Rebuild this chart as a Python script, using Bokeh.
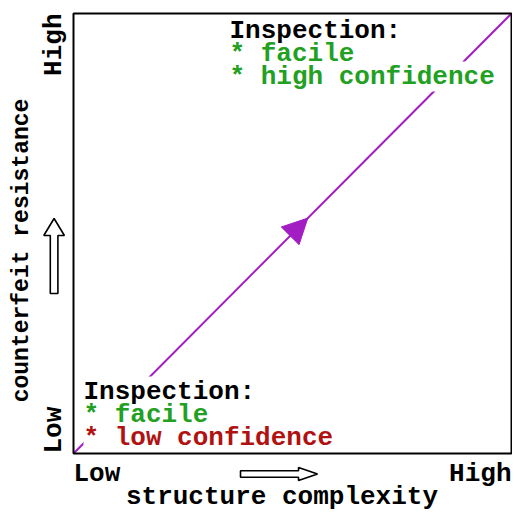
import math
from bokeh.plotting import figure
from bokeh.models import Range1d, Label, Arrow, NormalHead, BoxAnnotation
from bokeh.embed import file_html
from bokeh.resources import INLINE

# ---- data ----
levels = ["Low", "High"]
tick_pos = [0.0, 1.0]
tick_align = ["left", "right"]
trend_x = [0.0, 1.0]
trend_y = [0.0, 1.0]
x_title = "structure complexity"
y_title = "counterfeit resistance"
top_note = ["Inspection:", "* facile", "* high confidence"]
top_colors = ["black", "#22a022", "#22a022"]
bottom_note = ["Inspection:", "* facile", "* low confidence"]
bottom_colors = ["black", "#22a022", "#b01212"]

# ---- layout (pixels of the 512x513 canvas) ----
W, H = 512, 513
BOX_L, BOX_R, BOX_T, BOX_B = 73, 511, 13, 453
sx = 1.0 / (BOX_R - BOX_L)
sy = 1.0 / (BOX_B - BOX_T)
SHIFT = 7  # compensation of the rendered alphabetic baseline

FONT = "Liberation Mono"
FS = "26px"
PURPLE = "#a21ec2"

p = figure(width=W, height=H,
           x_range=Range1d(-BOX_L * sx, (W - BOX_L) * sx),
           y_range=Range1d(-(H - BOX_B) * sy, BOX_B * sy),
           x_axis_location=None, y_axis_location=None,
           output_backend="svg", toolbar_location=None, min_border=0)
p.grid.visible = False
p.outline_line_color = None
p.background_fill_color = "white"
p.border_fill_color = "white"

# tick labels
for lab, pos, al in zip(levels, tick_pos, tick_align):
    p.text(x=[pos], y=[-(27 - SHIFT) * sy], text=[lab], text_align=al, text_baseline="alphabetic",
           text_font={"value": FONT}, text_font_size=FS, text_font_style="bold", text_color="black")
    p.text(x=[-(13 + SHIFT) * sx], y=[pos], text=[lab], text_align=al, text_baseline="alphabetic",
           angle=math.pi / 2, text_font={"value": FONT}, text_font_size=FS, text_font_style="bold",
           text_color="black")

# axis titles
p.text(x=[0.476], y=[-(50 - SHIFT) * sy], text=[x_title], text_align="center", text_baseline="alphabetic",
       text_font={"value": FONT}, text_font_size=FS, text_font_style="bold", text_color="black")
p.text(x=[-(45 + SHIFT) * sx], y=[0.4614], text=[y_title], text_align="center", text_baseline="alphabetic",
       angle=math.pi / 2, text_font={"value": FONT}, text_font_size="23px", text_font_style="bold",
       text_color="black")

# hollow direction arrows beside the axes
def hollow_arrow(x0, x1, c, shaft, head, head_len, vertical=False):
    a = [x0, x1 - head_len, x1 - head_len, x1, x1 - head_len, x1 - head_len, x0]
    b = [c - shaft, c - shaft, c - head, c, c + head, c + shaft, c + shaft]
    if vertical:
        a, b = b, a
    return a, b

ax_, ay_ = hollow_arrow(0.3813, 0.5571, -0.0466, 3.2 * sy, 6.5 * sy, 19 * sx)
p.patch(ax_, ay_, fill_color="white", line_color="black", line_width=1.6)
vx_, vy_ = hollow_arrow(0.3636, 0.5341, -0.0443, 3.8 * sx, 10.3 * sx, 17 * sy, vertical=True)
p.patch(vx_, vy_, fill_color="white", line_color="black", line_width=1.6)

# diagonal trend line with a mid arrow head
p.line(trend_x, trend_y, line_color=PURPLE, line_width=2)
p.add_layout(Arrow(end=NormalHead(size=25, fill_color=PURPLE, line_color=PURPLE, line_width=1,
                                  hatch_pattern="/", hatch_color="white", hatch_alpha=0.7,
                                  hatch_scale=5, hatch_weight=1),
                   x_start=0.47, y_start=0.47, x_end=0.535, y_end=0.535, line_alpha=0))

# annotation text blocks: white masks first, then box, then the coloured text
blocks = [(top_note, top_colors, 0.3562, (BOX_B - 37 + SHIFT) * sy),
          (bottom_note, bottom_colors, 0.0228, (BOX_B - 398 + SHIFT) * sy)]
DY = 23 * sy
for lines, colors, x, y0 in blocks:
    for i, t in enumerate(lines):
        p.add_layout(Label(x=x, y=y0 - i * DY, text=t, text_font=FONT, text_font_size=FS,
                           text_font_style="bold", text_color="white", text_baseline="alphabetic",
                           background_fill_color="white"))

p.add_layout(BoxAnnotation(left=tick_pos[0], right=tick_pos[1], bottom=tick_pos[0], top=tick_pos[1],
                           fill_color=None, fill_alpha=0, line_color="black", line_width=2, line_alpha=1))

for lines, colors, x, y0 in blocks:
    for i, (t, c) in enumerate(zip(lines, colors)):
        p.add_layout(Label(x=x, y=y0 - i * DY, text=t, text_font=FONT, text_font_size=FS,
                           text_font_style="bold", text_color=c, text_baseline="alphabetic"))

open("out.html", "w").write(file_html(p, INLINE))
